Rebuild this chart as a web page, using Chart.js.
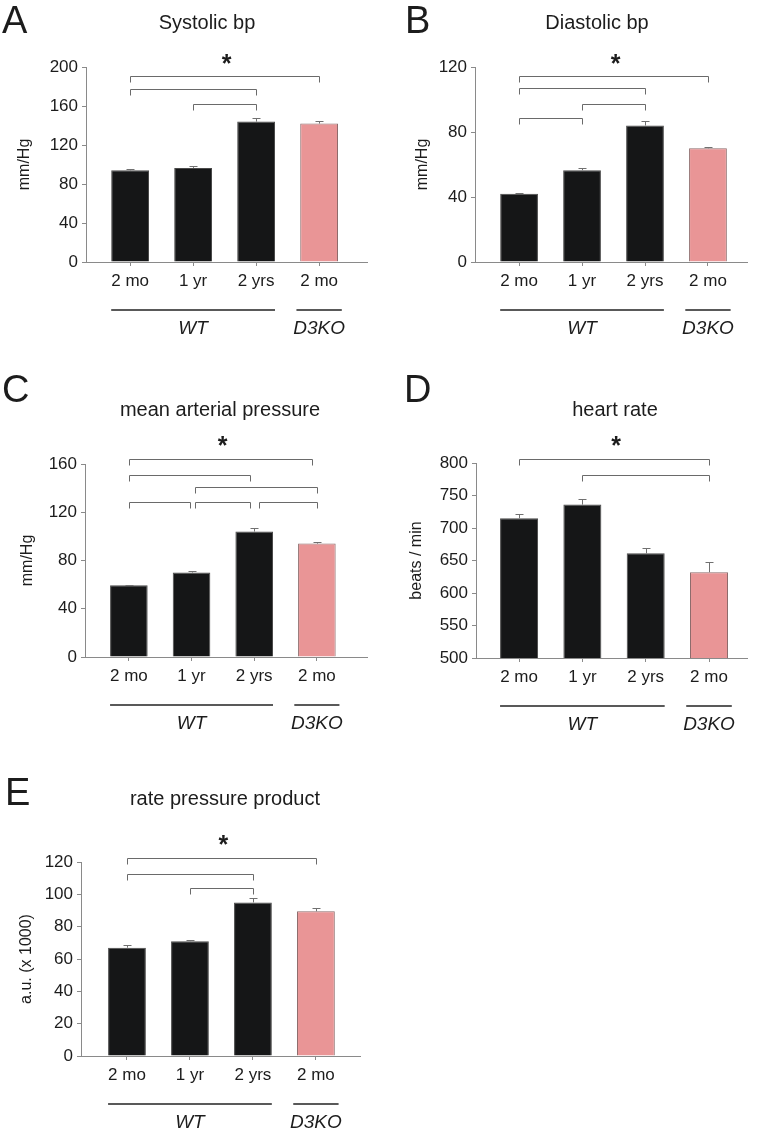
<!DOCTYPE html>
<html lang="en">
<head>
<meta charset="UTF-8">
<title>Blood pressure panels</title>
<script src="https://cdn.jsdelivr.net/npm/chart.js"></script>
<style>
    body { margin: 0; background: #fff; }
    #page { position: relative; width: 758px; height: 1136px; }
    #page canvas { position: absolute; }
</style>
</head>
<body>
<div id="page">
    <canvas id="panelA" width="379" height="345" style="left:0;top:0"></canvas>
    <canvas id="panelB" width="379" height="345" style="left:379px;top:0"></canvas>
    <canvas id="panelC" width="379" height="380" style="left:0;top:360px"></canvas>
    <canvas id="panelD" width="379" height="380" style="left:379px;top:360px"></canvas>
    <canvas id="panelE" width="379" height="376" style="left:0;top:760px"></canvas>
</div>
<script>
// shared categories and groups
const categories = ['2 mo', '1 yr', '2 yrs', '2 mo'];
const groupNames = ['WT', 'D3KO'];
const groupStart = [0, 3];
const groupEnd = [2, 3];

// A - systolic
const systolic = [94, 96.5, 144, 142];
const systolicErr = [1.5, 2, 3.5, 2.5];
const systolicTicks = [0, 40, 80, 120, 160, 200];
const systolicBrackets = [[0, 3, 190.5], [0, 2, 177.5], [1, 2, 161.7]];

// B - diastolic
const diastolic = [42, 56.5, 84, 70];
const diastolicErr = [0.5, 1.5, 3, 1];
const diastolicTicks = [0, 40, 80, 120];
const diastolicBrackets = [[0, 3, 114.3], [0, 2, 106.9], [1, 2, 97], [0, 1, 88.4]];

// C - mean arterial pressure
const meanArterial = [59.5, 70, 104, 94];
const meanArterialErr = [0.5, 1.5, 2.8, 1.2];
const meanArterialTicks = [0, 40, 80, 120, 160];
const meanArterialBrackets = [[0, 2.93, 164.2], [0, 1.93, 151], [1.05, 3, 141],
    [0, 0.97, 128.8], [1.05, 1.93, 128.8], [2.07, 3, 128.8]];

// D - heart rate
const heartRate = [715, 736, 661, 632];
const heartRateErr = [7, 8, 9, 15];
const heartRateTicks = [500, 550, 600, 650, 700, 750, 800];
const heartRateBrackets = [[0, 3, 806], [1, 3, 782]];

// E - rate pressure product
const ratePressure = [67, 71, 95, 89.5];
const ratePressureErr = [1.5, 1, 2.5, 2];
const ratePressureTicks = [0, 20, 40, 60, 80, 100, 120];
const ratePressureBrackets = [[0, 3, 122.7], [0, 2, 112.8], [1, 2, 104]];

const FONT = '"Liberation Sans", Arial, sans-serif';
const TEXT = '#1c1c1c';
const AXIS = '#8a8a8a';
const barColors = ['#151617', '#151617', '#151617', '#e99596'];
const barBorders = ['#4a4a4a', '#4a4a4a', '#4a4a4a', '#8d6b6b'];

// draws letter, title, error bars, brackets, asterisk and group labels
const panelDecor = {
    id: 'panelDecor',
    afterDraw(chart, args, o) {
        const ctx = chart.ctx;
        const x = chart.scales.x, y = chart.scales.y;
        const area = chart.chartArea;
        ctx.save();
        ctx.fillStyle = TEXT;
        ctx.font = '38px ' + FONT;
        ctx.textAlign = 'left';
        ctx.textBaseline = 'alphabetic';
        ctx.fillText(o.letter, o.letterX, o.letterY);

        ctx.font = '20px ' + FONT;
        ctx.textAlign = 'center';
        ctx.textBaseline = 'middle';
        ctx.fillText(o.title, o.titleX, o.titleY);

        // error bars (upper only)
        ctx.strokeStyle = '#707070';
        ctx.lineWidth = 1;
        o.values.forEach((v, i) => {
            const px = Math.round(x.getPixelForValue(i)) + 0.5;
            const y0 = y.getPixelForValue(v);
            const y1 = Math.round(y.getPixelForValue(v + o.errors[i])) + 0.5;
            ctx.beginPath();
            ctx.moveTo(px, y0);
            ctx.lineTo(px, y1);
            ctx.moveTo(px - 4, y1);
            ctx.lineTo(px + 4, y1);
            ctx.stroke();
        });

        // significance brackets
        ctx.strokeStyle = '#6a6a6a';
        o.brackets.forEach(b => {
            const xa = Math.round(x.getPixelForValue(b[0])) + 0.5;
            const xb = Math.round(x.getPixelForValue(b[1])) + 0.5;
            const yy = Math.round(y.getPixelForValue(b[2])) + 0.5;
            ctx.beginPath();
            ctx.moveTo(xa, yy + 6);
            ctx.lineTo(xa, yy);
            ctx.lineTo(xb, yy);
            ctx.lineTo(xb, yy + 6);
            ctx.stroke();
        });
        const top = o.brackets[0];
        const starX = (x.getPixelForValue(top[0]) + x.getPixelForValue(top[1])) / 2 + 2;
        const starY = y.getPixelForValue(top[2]) - 19;
        ctx.font = 'bold 25px ' + FONT;
        ctx.textBaseline = 'alphabetic';
        ctx.fillText('*', starX, starY + 0.57 * 25);

        // group lines and names
        ctx.strokeStyle = '#222';
        ctx.lineWidth = 1.5;
        ctx.font = 'italic 19px ' + FONT;
        ctx.textBaseline = 'middle';
        groupNames.forEach((name, g) => {
            const pad = groupStart[g] === groupEnd[g] ? 0.36 : 0.3;
            const x0 = x.getPixelForValue(groupStart[g] - pad);
            const x1 = x.getPixelForValue(groupEnd[g] + pad);
            const ly = area.bottom + 48;
            ctx.beginPath();
            ctx.moveTo(x0, ly);
            ctx.lineTo(x1, ly);
            ctx.stroke();
            ctx.fillText(name, (x0 + x1) / 2, area.bottom + 67);
        });
        ctx.restore();
    }
};

function makePanel(id, p) {
    const ticks = p.ticks;
    new Chart(document.getElementById(id), {
        type: 'bar',
        data: {
            datasets: [{
                data: p.values.map((v, i) => ({ x: i, y: v })),
                backgroundColor: barColors,
                borderColor: barBorders,
                borderWidth: 1,
                categoryPercentage: 1,
                barPercentage: 0.6
            }]
        },
        options: {
            responsive: false,
            animation: false,
            events: [],
            layout: { padding: { top: p.area.top, left: 0, right: p.width - p.area.right, bottom: 0 } },
            plugins: {
                legend: { display: false },
                tooltip: { enabled: false },
                title: { display: false },
                panelDecor: p.decor
            },
            scales: {
                x: {
                    type: 'linear',
                    min: p.xMin,
                    max: p.xMax,
                    offset: false,
                    afterFit: s => { s.height = p.height - p.area.bottom; },
                    afterBuildTicks: s => { s.ticks = categories.map((c, i) => ({ value: i })); },
                    grid: { display: true, offset: false, drawOnChartArea: false, tickLength: 4, color: AXIS },
                    border: { color: AXIS },
                    ticks: {
                        autoSkip: false, maxRotation: 0, padding: 5, color: TEXT,
                        font: { family: FONT, size: 17 },
                        callback: v => categories[v]
                    }
                },
                y: {
                    min: ticks[0],
                    max: ticks[ticks.length - 1],
                    afterFit: s => { s.width = p.area.left; },
                    grid: { display: true, drawOnChartArea: false, tickLength: 4, color: AXIS },
                    border: { color: AXIS },
                    ticks: {
                        stepSize: ticks[1] - ticks[0], padding: 4, color: TEXT,
                        font: { family: FONT, size: 17 }
                    },
                    title: {
                        display: true, text: p.yTitle, color: TEXT,
                        font: { family: FONT, size: 16 },
                        padding: { top: p.yTitlePad, bottom: 0 }
                    }
                }
            }
        },
        plugins: [panelDecor]
    });
}

makePanel('panelA', {
    width: 379, height: 345, area: { left: 86, right: 367, top: 67, bottom: 262 },
    xMin: -0.70, xMax: 3.76, values: systolic, ticks: systolicTicks,
    yTitle: 'mm/Hg', yTitlePad: 15,
    decor: { letter: 'A', letterX: 2, letterY: 33, title: 'Systolic bp', titleX: 207, titleY: 23,
             values: systolic, errors: systolicErr, brackets: systolicBrackets }
});
makePanel('panelB', {
    width: 379, height: 345, area: { left: 96, right: 368, top: 67, bottom: 262 },
    xMin: -0.70, xMax: 3.62, values: diastolic, ticks: diastolicTicks,
    yTitle: 'mm/Hg', yTitlePad: 34,
    decor: { letter: 'B', letterX: 26, letterY: 33, title: 'Diastolic bp', titleX: 218, titleY: 23,
             values: diastolic, errors: diastolicErr, brackets: diastolicBrackets }
});
makePanel('panelC', {
    width: 379, height: 380, area: { left: 85, right: 367, top: 104, bottom: 297 },
    xMin: -0.70, xMax: 3.80, values: meanArterial, ticks: meanArterialTicks,
    yTitle: 'mm/Hg', yTitlePad: 18,
    decor: { letter: 'C', letterX: 2, letterY: 42, title: 'mean arterial pressure', titleX: 220, titleY: 50,
             values: meanArterial, errors: meanArterialErr, brackets: meanArterialBrackets }
});
makePanel('panelD', {
    width: 379, height: 380, area: { left: 97, right: 368, top: 103, bottom: 298 },
    xMin: -0.68, xMax: 3.60, values: heartRate, ticks: heartRateTicks,
    yTitle: 'beats / min', yTitlePad: 28,
    decor: { letter: 'D', letterX: 25, letterY: 42, title: 'heart rate', titleX: 236, titleY: 50,
             values: heartRate, errors: heartRateErr, brackets: heartRateBrackets }
});
makePanel('panelE', {
    width: 379, height: 376, area: { left: 81, right: 360, top: 102, bottom: 296 },
    xMin: -0.73, xMax: 3.70, values: ratePressure, ticks: ratePressureTicks,
    yTitle: 'a.u. (x 1000)', yTitlePad: 17,
    decor: { letter: 'E', letterX: 5, letterY: 45, title: 'rate pressure product', titleX: 225, titleY: 39,
             values: ratePressure, errors: ratePressureErr, brackets: ratePressureBrackets }
});
</script>
</body>
</html>
